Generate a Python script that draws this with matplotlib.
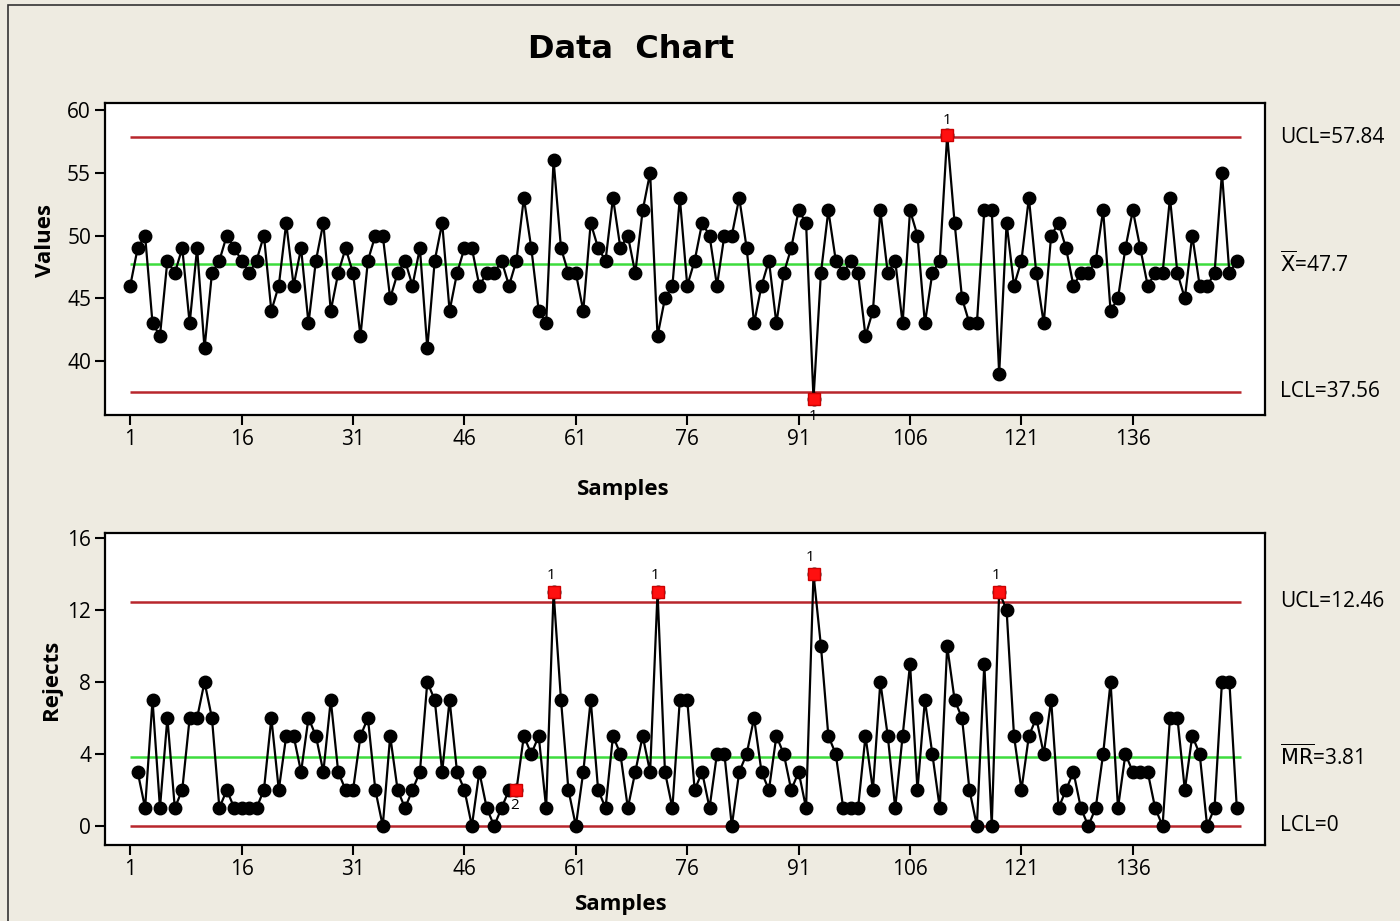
import numpy as np
import matplotlib.pyplot as plt
from matplotlib.transforms import blended_transform_factory
from matplotlib.patches import Rectangle

# individual values, samples 1..150
values = [46, 49, 50, 43, 42, 48, 47, 49, 43, 49,
          41, 47, 48, 50, 49, 48, 47, 48, 50, 44,
          46, 51, 46, 49, 43, 48, 51, 44, 47, 49,
          47, 42, 48, 50, 50, 45, 47, 48, 46, 49,
          41, 48, 51, 44, 47, 49, 49, 46, 47, 47,
          48, 46, 48, 53, 49, 44, 43, 56, 49, 47,
          47, 44, 51, 49, 48, 53, 49, 50, 47, 52,
          55, 42, 45, 46, 53, 46, 48, 51, 50, 46,
          50, 50, 53, 49, 43, 46, 48, 43, 47, 49,
          52, 51, 37, 47, 52, 48, 47, 48, 47, 42,
          44, 52, 47, 48, 43, 52, 50, 43, 47, 48,
          58, 51, 45, 43, 43, 52, 52, 39, 51, 46,
          48, 53, 47, 43, 50, 51, 49, 46, 47, 47,
          48, 52, 44, 45, 49, 52, 49, 46, 47, 47,
          53, 47, 45, 50, 46, 46, 47, 55, 47, 48]

# moving ranges, samples 2..150
rejects = [3, 1, 7, 1, 6, 1, 2, 6, 6,
           8, 6, 1, 2, 1, 1, 1, 1, 2, 6,
           2, 5, 5, 3, 6, 5, 3, 7, 3, 2,
           2, 5, 6, 2, 0, 5, 2, 1, 2, 3,
           8, 7, 3, 7, 3, 2, 0, 3, 1, 0,
           1, 2, 2, 5, 4, 5, 1, 13, 7, 2,
           0, 3, 7, 2, 1, 5, 4, 1, 3, 5,
           3, 13, 3, 1, 7, 7, 2, 3, 1, 4,
           4, 0, 3, 4, 6, 3, 2, 5, 4, 2,
           3, 1, 14, 10, 5, 4, 1, 1, 1, 5,
           2, 8, 5, 1, 5, 9, 2, 7, 4, 1,
           10, 7, 6, 2, 0, 9, 0, 13, 12, 5,
           2, 5, 6, 4, 7, 1, 2, 3, 1, 0,
           1, 4, 8, 1, 4, 3, 3, 3, 1, 0,
           6, 6, 2, 5, 4, 0, 1, 8, 8, 1]

samples = np.arange(1, len(values) + 1)
mr_samples = samples[1:]

x_ucl, x_cl, x_lcl = 57.84, 47.7, 37.56
mr_ucl, mr_cl, mr_lcl = 12.46, 3.81, 0

# flagged points (sample number, test label)
x_flags = [(93, '1', 'below'), (111, '1', 'above')]
mr_flags = [(53, '2', 'below'), (58, '1', 'above'), (72, '1', 'above'),
            (93, '1', 'above'), (118, '1', 'above')]

xticks = [1, 16, 31, 46, 61, 76, 91, 106, 121, 136]

BG = '#EEEBE1'
RED = '#B8262C'
GREEN = '#3DDC3D'
tick_font = 'Open Sans'

fig = plt.figure(figsize=(14, 9.21), dpi=100, facecolor=BG)
fig.patches.append(Rectangle((8 / 1400, -0.05), 1.1, 1.05 - 5 / 921,
                             transform=fig.transFigure, fill=False,
                             edgecolor='#333333', lw=1.2))

ax1 = fig.add_axes([0.075, 0.5494, 0.8286, 0.3388])
ax2 = fig.add_axes([0.075, 0.0825, 0.8286, 0.3388])


def style(ax, ylim, yticks):
    ax.set_xlim(-2.4, 153.8)
    ax.set_ylim(*ylim)
    ax.set_xticks(xticks)
    ax.set_yticks(yticks)
    ax.tick_params(direction='out', length=7, width=1.5, labelsize=15, pad=3)
    for lab in ax.get_xticklabels() + ax.get_yticklabels():
        lab.set_fontfamily(tick_font)
    for sp in ax.spines.values():
        sp.set_linewidth(1.6)
    ax.set_facecolor('white')


def limits(ax, ucl, cl, lcl, names):
    ax.hlines([ucl, lcl], 1, 150.5, colors=RED, lw=1.8, zorder=1)
    ax.hlines(cl, 1, 150.5, colors=GREEN, lw=1.8, zorder=1)
    tr = blended_transform_factory(ax.transAxes, ax.transData)
    for val, name in zip([ucl, cl, lcl], names):
        ax.text(1.013, val, name, transform=tr, ha='left', va='center',
                fontsize=15, family=tick_font)


# individuals chart
style(ax1, (35.7, 60.56), [40, 45, 50, 55, 60])
limits(ax1, x_ucl, x_cl, x_lcl,
       ['UCL=57.84', r'$\overline{\mathrm{X}}$=47.7', 'LCL=37.56'])
ax1.plot(samples, values, color='black', lw=1.6, marker='o', ms=9, zorder=3)
for s, lab, pos in x_flags:
    v = values[s - 1]
    ax1.plot(s, v, 's', color='#FF1010', mec='#CC0000', ms=9, zorder=4)
    off = 1.15 if pos == 'above' else -1.4
    ax1.text(s, v + off, lab, ha='center', va='center', fontsize=11, family=tick_font)
ax1.set_ylabel('Values', fontsize=16, fontweight='bold', family=tick_font)
ax1.yaxis.set_label_coords(-0.042, 0.56)
ax1.set_xlabel('Samples', fontsize=16, fontweight='bold', family=tick_font)
ax1.xaxis.set_label_coords(0.447, -0.205)

# moving range chart
style(ax2, (-1.06, 16.28), [0, 4, 8, 12, 16])
limits(ax2, mr_ucl, mr_cl, mr_lcl,
       ['UCL=12.46', r'$\overline{\mathrm{MR}}$=3.81', 'LCL=0'])
ax2.plot(mr_samples, rejects, color='black', lw=1.6, marker='o', ms=9, zorder=3)
for s, lab, pos in mr_flags:
    v = rejects[s - 2]
    ax2.plot(s, v, 's', color='#FF1010', mec='#CC0000', ms=9, zorder=4)
    if pos == 'above':
        ax2.text(s - 0.4, v + 0.9, lab, ha='center', va='center', fontsize=11,
                 family=tick_font)
    else:
        ax2.text(s - 0.3, v - 0.85, lab, ha='center', va='center', fontsize=11,
                 family=tick_font)
ax2.set_ylabel('Rejects', fontsize=16, fontweight='bold', family=tick_font)
ax2.yaxis.set_label_coords(-0.037, 0.53)
ax2.set_xlabel('Samples', fontsize=16, fontweight='bold', family=tick_font)
ax2.xaxis.set_label_coords(0.445, -0.157)

fig.text(0.451, 0.946, 'Data  Chart', ha='center', va='center',
         fontsize=23, fontweight='bold', family='DejaVu Sans')

fig.savefig('out.png', dpi=100, facecolor=BG)
